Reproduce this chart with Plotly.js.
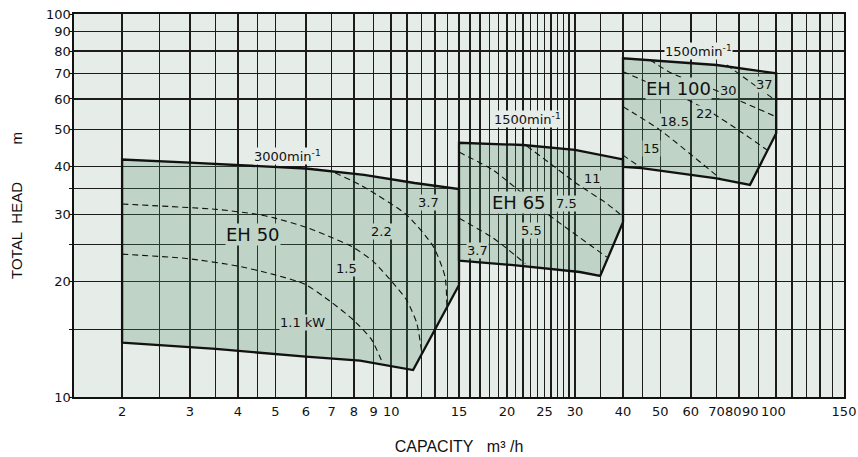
<!DOCTYPE html>
<html>
<head>
<meta charset="utf-8">
<script src="https://cdn.plot.ly/plotly-3.0.1.min.js"></script>
<style>
  html, body { margin: 0; padding: 0; background: #ffffff; }
  #chart { width: 858px; height: 457px; }
</style>
</head>
<body>
<div id="chart"></div>
<script>
// ---------------- data ----------------
// grid positions on the capacity axis (m3/h) and which of them carry a label
const xGridVals = [2, 2.5, 3, 3.5, 4, 4.5, 5, 6, 7, 8, 9, 10, 11, 12, 13, 14, 15,
  16, 17, 18, 19, 20, 21, 22, 23, 24, 25, 26, 27, 28, 29, 30, 35, 40, 45, 50, 60,
  70, 80, 90, 100, 110, 120, 130, 140, 150];
const xLabelVals = [2, 3, 4, 5, 6, 7, 8, 9, 10, 15, 20, 25, 30, 40, 50, 60, 70, 150];
// crowded labels that the original prints nudged to the left
const xCrowdedVals = [80, 90, 100];
// grid positions on the head axis (m)
const yGridVals = [10, 15, 20, 25, 30, 35, 40, 50, 60, 70, 80, 90, 100];
const yLabelVals = [10, 20, 30, 40, 50, 60, 70, 80, 90, 100];

// pump ranges (capacity Q, head H)
const eh50Q = [2, 2, 3, 4, 6, 8.5, 11.5, 15, 15, 11.4, 8.3, 6, 3.5, 2];
const eh50H = [13.86, 41.7, 40.9, 40.35, 39.5, 38.0, 36.2, 34.9, 19.6, 11.76, 12.44, 12.74, 13.35, 13.86];

const eh65Q = [15, 15, 22, 30, 40, 40, 34.9, 30.9, 20.8, 15];
const eh65H = [22.7, 46.1, 45.5, 44.2, 41.7, 28.6, 20.7, 21.2, 22.1, 22.7];

const eh100Q = [40, 40, 70, 100, 100, 85.5, 70, 44.7, 40];
const eh100H = [39.9, 76.6, 73.6, 70.0, 48.8, 35.8, 37.2, 39.6, 39.9];

// motor power limit lines (kW)
const eh50p11Q = [2.0, 2.94, 3.97, 4.94, 5.97, 6.93, 7.97, 8.9, 9.5];
const eh50p11H = [23.6, 23.0, 22.0, 20.9, 19.7, 17.8, 15.9, 14.1, 12.25];
const eh50p15Q = [2.0, 3.52, 4.47, 4.94, 5.97, 6.93, 7.97, 8.98, 10.13, 10.97, 11.65, 12.0];
const eh50p15H = [31.9, 30.9, 30.0, 29.4, 27.8, 26.2, 24.6, 22.6, 19.8, 17.9, 15.6, 13.1];
const eh50p22Q = [6.0, 6.93, 8.3, 8.81, 10.97, 12.87, 13.8, 13.95];
const eh50p22H = [39.5, 38.9, 35.8, 34.6, 29.9, 24.7, 20.6, 17.2];

const eh65p37Q = [15, 18.4, 22.3];
const eh65p37H = [29.3, 26.0, 22.3];
const eh65p55Q = [15, 18.4, 25.3, 36.3];
const eh65p55H = [43.6, 39.1, 30.2, 23.2];
const eh65p75Q = [22.5, 25.8, 30.3, 36.3, 40];
const eh65p75H = [45.2, 40.8, 36.1, 32.0, 29.6];

const eh100pAQ = [40, 44.7];
const eh100pAH = [42.8, 39.6];
const eh100pBQ = [40, 49.9, 71.5];
const eh100pBH = [57.3, 49.8, 37.2];
const eh100pCQ = [40, 59.0, 67.3, 79.7, 94.5];
const eh100pCH = [70.7, 59.6, 55.6, 49.8, 44.2];
const eh100pDQ = [47.0, 53.5, 67.3, 100];
const eh100pDH = [75.9, 70.0, 64.1, 53.9];
const eh100pEQ = [74.4, 99.4];
const eh100pEH = [73.6, 59.6];

// chart labels
const labelText = ['3000min<sup>-1</sup>', '1500min<sup>-1</sup>', '1500min<sup>-1</sup>',
  'EH 50', 'EH 65', 'EH 100',
  '1.1 kW', '1.5', '2.2', '3.7', '3.7', '5.5', '7.5', '11', '15', '18.5', '22', '30', '37'];
const labelKind = ['speed', 'speed', 'speed', 'model', 'model', 'model',
  'kw', 'kw', 'kw', 'kw', 'kw', 'kw', 'kw', 'kw', 'kw', 'kw', 'kw', 'kw', 'kw'];
const labelQ = [5.39, 22.6, 63.0, 4.38, 21.5, 55.8,
  5.87, 7.65, 9.41, 12.5, 16.8, 23.2, 28.5, 33.4, 47.5, 54.3, 65.3, 75.1, 93.5];
const labelH = [42.6, 53.2, 80.0, 26.5, 32.2, 64.0,
  15.65, 21.7, 27.0, 32.2, 24.2, 27.2, 32.0, 37.3, 44.6, 52.3, 54.9, 63.3, 65.4];

// ---------------- styling ----------------
const BG = '#e6ece7';
const SHADE = '#bfd4c6';
const FILL = 'rgba(74,140,101,0.25)';   // composites to SHADE over BG, lets grid show through
const INK = '#111111';
const GRID = '#1c1c1c';
const TICKFONT = {family: 'DejaVu Sans, sans-serif', size: 13, color: INK};
const crowdShift = [-5, -8, -3];

const regions = [[eh50Q, eh50H], [eh65Q, eh65H], [eh100Q, eh100H]];
const powerLines = [
  [eh50p11Q, eh50p11H], [eh50p15Q, eh50p15H], [eh50p22Q, eh50p22H],
  [eh65p37Q, eh65p37H], [eh65p55Q, eh65p55H], [eh65p75Q, eh65p75H],
  [eh100pAQ, eh100pAH], [eh100pBQ, eh100pBH], [eh100pCQ, eh100pCH],
  [eh100pDQ, eh100pDH], [eh100pEQ, eh100pEH]
];

const traces = [];
regions.forEach(([q, h]) => {
  traces.push({
    type: 'scatter', mode: 'lines', x: q, y: h,
    fill: 'toself', fillcolor: FILL,
    line: {color: INK, width: 2.3},
    hoverinfo: 'skip', showlegend: false
  });
});
powerLines.forEach(([q, h]) => {
  traces.push({
    type: 'scatter', mode: 'lines', x: q, y: h,
    line: {color: INK, width: 1.1, dash: '6px,4px', shape: 'spline', smoothing: 0.6},
    hoverinfo: 'skip', showlegend: false
  });
});

const annotations = labelText.map((t, i) => {
  const kind = labelKind[i];
  return {
    x: Math.log10(labelQ[i]), y: Math.log10(labelH[i]),
    xref: 'x', yref: 'y', text: t, showarrow: false,
    bgcolor: kind === 'speed' ? BG : SHADE,
    borderpad: 0,
    font: {
      family: 'DejaVu Sans, sans-serif',
      size: kind === 'model' ? 18 : 13,
      color: INK
    }
  };
});
xCrowdedVals.forEach((v, i) => {
  annotations.push({
    x: Math.log10(v), xref: 'x', y: 0, yref: 'paper',
    yanchor: 'middle', yshift: -14, xshift: crowdShift[i],
    text: String(v), showarrow: false, font: TICKFONT
  });
});

const layout = {
  width: 858, height: 457,
  margin: {l: 74, r: 14, t: 14, b: 60},
  paper_bgcolor: '#ffffff',
  plot_bgcolor: BG,
  showlegend: false,
  xaxis: {
    type: 'log',
    range: [Math.log10(1.5), Math.log10(150)],
    tickmode: 'array',
    tickvals: xGridVals,
    ticktext: xGridVals.map(v => xLabelVals.includes(v) ? String(v) : ''),
    tickangle: 0,
    ticklabelstandoff: 2,
    showgrid: true, gridcolor: GRID, gridwidth: 1.5,
    showline: true, linecolor: INK, linewidth: 1.6, mirror: true,
    ticks: '', zeroline: false,
    tickfont: TICKFONT,
    title: {
      text: 'CAPACITY\u00a0\u00a0\u00a0m³\u00a0/h\u00a0\u00a0',
      font: {family: 'Liberation Sans, Arial, sans-serif', size: 16, color: INK},
      standoff: 22
    },
    fixedrange: true
  },
  yaxis: {
    type: 'log',
    range: [1, 2],
    tickmode: 'array',
    tickvals: yGridVals,
    ticktext: yGridVals.map(v => yLabelVals.includes(v) ? String(v) : ''),
    showgrid: true, gridcolor: GRID, gridwidth: 1.5,
    showline: true, linecolor: INK, linewidth: 1.6, mirror: true,
    ticks: 'outside', ticklen: 3, tickcolor: INK, tickwidth: 1,
    ticklabelstandoff: -4,
    zeroline: false,
    tickfont: TICKFONT,
    title: {
      text: 'TOTAL\u00a0\u00a0HEAD\u00a0\u00a0\u00a0\u00a0\u00a0\u00a0\u00a0\u00a0\u00a0m',
      font: {family: 'Liberation Sans, Arial, sans-serif', size: 15, color: INK},
      standoff: 20
    },
    fixedrange: true
  },
  annotations: annotations
};

Plotly.newPlot('chart', traces, layout, {staticPlot: true, displayModeBar: false});
</script>
</body>
</html>
